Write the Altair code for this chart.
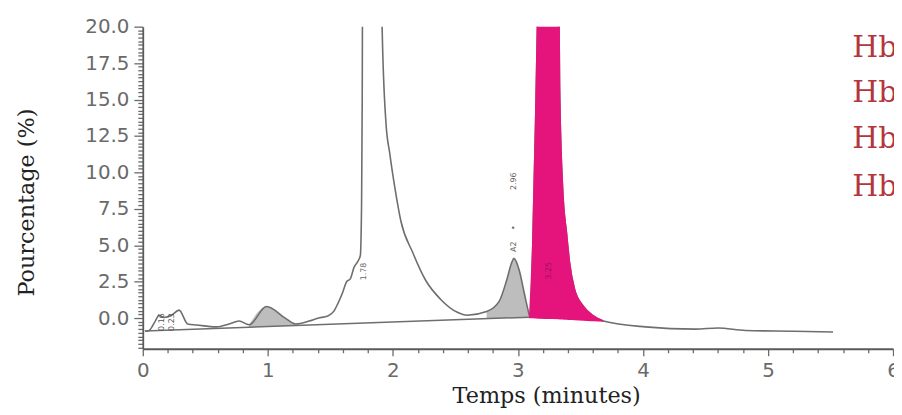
import altair as alt
import pandas as pd

# ---- main chromatogram trace (time in minutes, signal in %) ----
trace_t = [0.02, 0.05, 0.10, 0.13, 0.17, 0.23, 0.29, 0.36, 0.43, 0.59, 0.69, 0.77,
           0.85, 0.99, 1.14, 1.22, 1.33, 1.40, 1.48, 1.53, 1.56, 1.60, 1.63, 1.66,
           1.69, 1.72, 1.74, 1.75, 1.755, 1.76, 1.80, 1.85, 1.90, 1.913, 1.944,
           1.976, 2.016, 2.063, 2.159, 2.262, 2.381, 2.516, 2.595, 2.75, 2.85, 2.91,
           2.95, 2.968, 3.01, 3.05, 3.08, 3.095, 3.119, 3.143, 3.167, 3.24, 3.325,
           3.333, 3.357, 3.389, 3.413, 3.452, 3.524, 3.603, 3.683, 4.02, 4.42, 4.6,
           4.82, 5.21, 5.52]
trace_v = [-0.9, -0.85, -0.2, 0.2, 0.05, 0.2, 0.55, -0.4, -0.47, -0.6, -0.4, -0.2,
           -0.45, 0.8, 0.0, -0.4, -0.2, 0.0, 0.15, 0.5, 1.0, 1.8, 2.5, 2.7,
           3.5, 3.9, 4.3, 8.0, 15.0, 30.0, 60.0, 60.0, 30.0, 20.5, 13.5,
           11.25, 8.95, 6.7, 4.5, 2.6, 1.3, 0.4, 0.2, 0.45, 1.15, 2.6,
           3.8, 4.1, 3.3, 1.76, 0.6, 0.13, 5.0, 14.0, 25.0, 80.0, 25.0,
           16.0, 9.0, 5.8, 3.8, 2.0, 0.8, 0.15, -0.2, -0.6, -0.75, -0.68,
           -0.85, -0.9, -0.95]

# ---- integration baseline (straight segment) ----
base_t = [0.016, 3.095]
base_v = [-0.88, 0.07]

# ---- grey integrated peaks (curve and lower bound) ----
grey1_t = [0.85, 0.99, 1.14, 1.22]
grey1_v = [-0.45, 0.8, 0.0, -0.4]
grey1_b = [-0.62, -0.58, -0.53, -0.5]

grey2_t = [2.75, 2.85, 2.91, 2.95, 2.968, 3.01, 3.05, 3.08, 3.095]
grey2_v = [0.45, 1.15, 2.6, 3.8, 4.1, 3.3, 1.76, 0.6, 0.13]
grey2_b = [-0.04, -0.01, 0.01, 0.02, 0.03, 0.04, 0.05, 0.06, 0.07]

# ---- pink (HbA0) peak ----
pink_t = [3.095, 3.119, 3.143, 3.167, 3.24, 3.325, 3.333, 3.357, 3.389, 3.413,
          3.452, 3.524, 3.603, 3.683]
pink_v = [0.13, 5.0, 14.0, 25.0, 80.0, 25.0, 16.0, 9.0, 5.8, 3.8, 2.0, 0.8, 0.15, -0.2]
pink_b = [0.05, 0.04, 0.03, 0.02, 0.0, -0.02, -0.03, -0.04, -0.06, -0.07,
          -0.09, -0.12, -0.16, -0.2]

# ---- peak annotations (rotated) ----
ann_t = [0.15, 0.23, 1.77, 2.97, 2.97, 2.97, 3.25]
ann_v = [-0.27, -0.27, 3.2, 4.9, 6.2, 9.4, 3.25]
ann_txt = ["0.16", "0.23", "1.78", "A2", "\u2022", "2.96", "3.25"]
ann_col = ["#555555", "#555555", "#666666", "#666666", "#666666", "#666666", "#9b1060"]

# ---- legend-like labels at the right edge ----
hb_t = [5.675, 5.675, 5.675, 5.675]
hb_v = [17.9, 14.85, 11.66, 8.4]
hb_txt = ["Hb", "Hb", "Hb", "Hb"]

y_ticks = [-2 + 0.25 * i for i in range(89)]
x_ticks = [0.2 * i for i in range(31)]

trace = pd.DataFrame({"t": trace_t, "v": trace_v})
base = pd.DataFrame({"t": base_t, "v": base_v})
grey = pd.DataFrame({"t": grey1_t + grey2_t, "v": grey1_v + grey2_v,
                     "b": grey1_b + grey2_b,
                     "g": ["a"] * len(grey1_t) + ["b"] * len(grey2_t)})
pink = pd.DataFrame({"t": pink_t, "v": pink_v, "b": pink_b})
ann = pd.DataFrame({"t": ann_t, "v": ann_v, "txt": ann_txt, "col": ann_col})
hb = pd.DataFrame({"t": hb_t, "v": hb_v, "txt": hb_txt})

xs = alt.Scale(domain=[0, 6], nice=False, zero=False)
ys = alt.Scale(domain=[-2.1, 20], nice=False, zero=False)

x_axis = alt.Axis(
    values=x_ticks,
    labelExpr="abs(datum.value - round(datum.value)) < 0.001 ? format(round(datum.value), 'd') : ''",
    tickSize={"condition": {"test": "abs(datum.value - round(datum.value)) < 0.001", "value": 7}, "value": 4},
    title="Temps (minutes)", titleX=407, titleY=47, titleBaseline="middle", titleAlign="center",
    labelOverlap=False, labelFlush=False, grid=False, labelPadding=5,
)
y_axis = alt.Axis(
    values=y_ticks,
    labelExpr="datum.value >= 0 && datum.value % 2.5 === 0 ? format(datum.value, '.1f') : ''",
    tickSize={"condition": {"test": "datum.value % 2.5 === 0", "value": 9}, "value": 5},
    title="Pourcentage (%)", titleX=-117, titleY=177, titleAngle=270,
    titleBaseline="middle", titleAlign="center",
    labelOverlap=False, grid=False, labelPadding=5,
)

X = alt.X("t:Q", scale=xs, axis=x_axis)
Y = alt.Y("v:Q", scale=ys, axis=y_axis)

grey_area = alt.Chart(grey).mark_area(color="#bdbdbd", clip=True, interpolate="monotone").encode(
    x=X, y=Y, y2="b:Q", detail="g:N",
)

trace_line = alt.Chart(trace).mark_line(color="#6e6e6e", strokeWidth=1.6, clip=True,
                                        interpolate="monotone").encode(x=X, y=Y)

base_line = alt.Chart(base).mark_line(color="#6e6e6e", strokeWidth=1.5, clip=True).encode(x=X, y=Y)

pink_area = alt.Chart(pink).mark_area(color="#e5147c", stroke="#e5147c", strokeWidth=1.6,
                                      clip=True, interpolate="monotone").encode(
    x=X, y=Y, y2="b:Q",
)

ann_text = alt.Chart(ann).mark_text(angle=270, fontSize=8, font="DejaVu Sans",
                                    baseline="middle", align="center").encode(
    x=X, y=Y, text="txt:N", color=alt.Color("col:N", scale=None),
)

hb_text = alt.Chart(hb).mark_text(fontSize=30, font="DejaVu Serif", color="#b3363d",
                                  align="left", baseline="alphabetic").encode(
    x=X, y=Y, text="txt:N",
)

chart = alt.layer(grey_area, trace_line, base_line, pink_area, ann_text, hb_text).properties(
    width=757, height=325,
    padding={"left": 136, "top": 17, "right": 1, "bottom": 65},
    autosize=alt.AutoSizeParams(type="none"),
    background="white",
).configure_view(stroke=None).configure_axis(
    domainColor="#5a5a5a", domainWidth=1.8,
    tickColor="#6a6a6a", tickWidth=1.3,
    labelFont="DejaVu Sans", labelFontSize=20, labelColor="#6a6a6a",
    titleFont="DejaVu Serif", titleFontSize=22.5, titleFontWeight="normal", titleColor="#222222",
)

chart.save("out.html", embed_options={"renderer": "svg", "actions": False})
